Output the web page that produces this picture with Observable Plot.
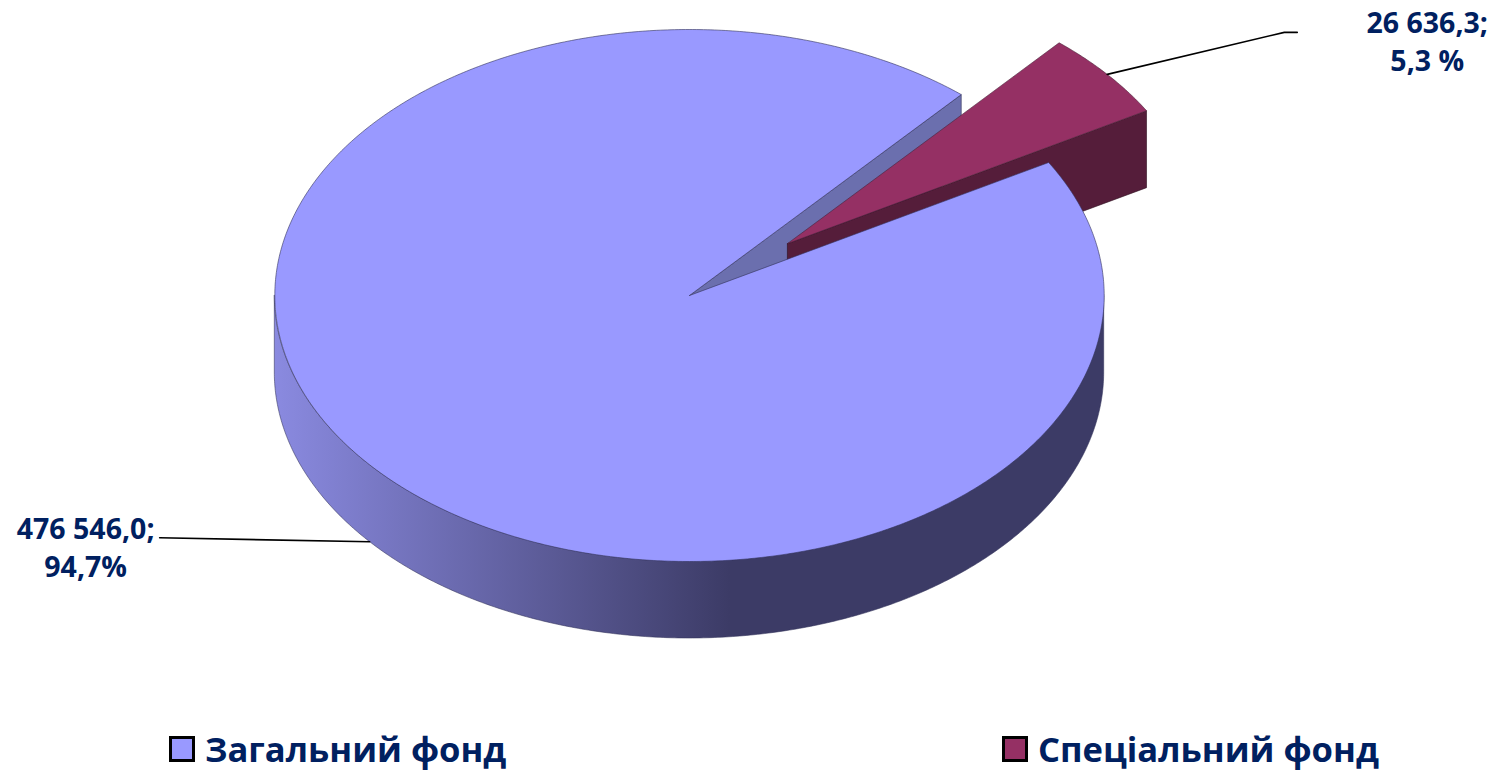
<!DOCTYPE html>
<html lang="uk">
<head>
<meta charset="utf-8">
<script src="https://cdn.jsdelivr.net/npm/d3@7"></script>
<script src="https://cdn.jsdelivr.net/npm/@observablehq/plot@0.6"></script>
<style>
  html, body { margin: 0; padding: 0; background: #fff; }
  svg { display: block; }
  #legend { position: relative; height: 50px; width: 1496px; font-family: "Open Sans", sans-serif; font-weight: 700; font-size: 34.6px; color: #002060; }
  #legend .sw { position: absolute; top: 16px; width: 20px; height: 20px; border: 3px solid #000; }
  #legend .tx { position: absolute; top: 5px; line-height: 48px; white-space: nowrap; }
</style>
</head>
<body>
<div id="chart"></div>
<div id="legend"></div>
<script>
// Data
const categories = ["Загальний фонд", "Спеціальний фонд"];
const values = [476546.0, 26636.3];
const dataLabels = ["476 546,0;\n94,7%", "26 636,3;\n5,3 %"];
const sliceColors = ["#9999ff", "#953064"];
const cutColors = ["#6b6fae", "#551d3a"];
const legendLeft = [169, 1002];

// View of the tilted pie (unit-circle coordinates; depth and explosion in the same units)
const firstAngle = 60 * Math.PI / 180;
const depth = 0.2895;
const explode = 0.306;
const W = 1496, H = 720;
const xRange = [274.3, 1103.7], yRange = [561, 29];
const pxX = (W_px) => W_px / ((xRange[1] - xRange[0]) / 2);
const pxY = (H_px) => H_px / ((yRange[0] - yRange[1]) / 2);

const arcs = d3.pie().sort(null).startAngle(firstAngle).endAngle(firstAngle + 2 * Math.PI)(values);
const [general, special] = arcs;
const mid = (a) => (a.startAngle + a.endAngle) / 2;
const at = (t, o = [0, 0], z = 0) => ({ x: Math.sin(t) + o[0], y: Math.cos(t) + o[1] - z });
const sweep = (a0, a1, o, z) => {
  const n = Math.ceil(Math.abs(a1 - a0) / (Math.PI / 360));
  return d3.range(n + 1).map((i) => at(a0 + (a1 - a0) * i / n, o, z));
};
const off = [explode * Math.sin(mid(special)), explode * Math.cos(mid(special))];
const centre = (o = [0, 0], z = 0) => ({ x: o[0], y: o[1] - z });

const wedge = (a, o = [0, 0]) => {
  const c = centre(o);
  return [c, ...sweep(a.startAngle, a.endAngle, o, 0), c];
};
const cutWall = (t, o = [0, 0]) => {
  const p = [centre(o), at(t, o, 0), at(t, o, depth), centre(o, depth)];
  return [...p, p[0]];
};

// Outer wall: the front half of the large slice
const front = d3.range(90, 270.5, 0.5).map((d) => {
  const t = d * Math.PI / 180;
  return { x: Math.sin(t), y1: Math.cos(t), y2: Math.cos(t) - depth };
});

const edge = "#33335a";
const poly = (pts, fill, stroke = edge) =>
  Plot.line(pts, { x: "x", y: "y", fill, stroke, strokeWidth: 0.8, strokeOpacity: 0.75, strokeLinejoin: "round" });

// Leader lines, anchored to each slice's mid-angle
const a0 = at(mid(general), [0, 0], depth);
const a1 = at(mid(special), off, 0);
const leader0 = [a0, { x: a0.x - pxX(210), y: a0.y + pxY(4) }];
const leader1 = [a1, { x: a1.x + pxX(177), y: a1.y + pxY(42) }, { x: a1.x + pxX(190), y: a1.y + pxY(42) }];
const labelPos = [
  { x: a0.x - pxX(284), y: a0.y - pxY(4), text: dataLabels[0] },
  { x: a1.x + pxX(320), y: a1.y + pxY(35), text: dataLabels[1] }
];

const gradient = () => {
  const svg = d3.create("svg:defs");
  const g = svg.append("linearGradient").attr("id", "wall").attr("gradientUnits", "userSpaceOnUse")
    .attr("x1", xRange[0]).attr("x2", 730).attr("y1", 0).attr("y2", 0);
  g.append("stop").attr("offset", 0).attr("stop-color", "#8a8ae0");
  g.append("stop").attr("offset", 1).attr("stop-color", "#3c3b66");
  return svg.node();
};

const chart = Plot.plot({
  width: W, height: H,
  marginTop: 0, marginRight: 0, marginBottom: 0, marginLeft: 0,
  x: { domain: [-1, 1], range: xRange, axis: null },
  y: { domain: [-1, 1], range: yRange, axis: null },
  style: { background: "#fff" },
  marks: [
    gradient,
    Plot.areaY(front, { x: "x", y1: "y1", y2: "y2", fill: "url(#wall)", stroke: edge, strokeWidth: 0.8, strokeOpacity: 0.7 }),
    poly(cutWall(general.endAngle), cutColors[0]),
    poly(cutWall(special.endAngle, off), cutColors[1], "#2b0e1d"),
    poly(wedge(special, off), sliceColors[1], "#4a2038"),
    poly(wedge(general), sliceColors[0]),
    Plot.line(leader0, { x: "x", y: "y", stroke: "#000", strokeWidth: 1.6 }),
    Plot.line(leader1, { x: "x", y: "y", stroke: "#000", strokeWidth: 1.6 }),
    Plot.text(labelPos, {
      x: "x", y: "y", text: "text", fill: "#002060", fontWeight: "bold",
      fontFamily: '"Open Sans", sans-serif', fontSize: 28.5, lineHeight: 1.34,
      textAnchor: "middle", lineAnchor: "middle"
    })
  ]
});
document.getElementById("chart").append(chart);

const legend = d3.select("#legend");
categories.forEach((c, i) => {
  legend.append("div").attr("class", "sw").style("left", legendLeft[i] + "px").style("background", sliceColors[i]);
  legend.append("div").attr("class", "tx").style("left", (legendLeft[i] + 36) + "px").text(c);
});
</script>
</body>
</html>
